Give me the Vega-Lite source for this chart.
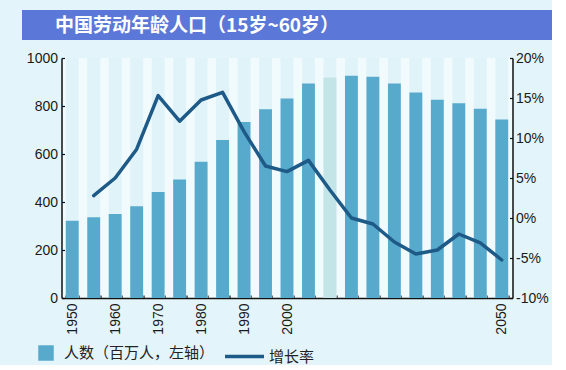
{
  "$schema": "https://vega.github.io/schema/vega-lite/v6.json",
  "background": "#E3F5FA",
  "padding": {"left": 22, "top": 10, "right": 0, "bottom": 0},
  "config": {
    "font": "Liberation Sans",
    "view": {"stroke": null},
    "axis": {"domainColor": "#111", "domainWidth": 1.5, "tickColor": "#111", "tickWidth": 1.2, "labelColor": "#1A1A1A", "labelFontSize": 14, "labelFont": "Liberation Sans", "title": null, "grid": false, "zindex": 1}
  },
  "data": {"values": [
    {"year": 1950, "pop": 322, "rate": null},
    {"year": 1955, "pop": 336, "rate": 2.8},
    {"year": 1960, "pop": 350, "rate": 5.0},
    {"year": 1965, "pop": 382, "rate": 8.6},
    {"year": 1970, "pop": 442, "rate": 15.3},
    {"year": 1975, "pop": 494, "rate": 12.1},
    {"year": 1980, "pop": 568, "rate": 14.75},
    {"year": 1985, "pop": 658, "rate": 15.7},
    {"year": 1990, "pop": 733, "rate": 10.8},
    {"year": 1995, "pop": 786, "rate": 6.5},
    {"year": 2000, "pop": 831, "rate": 5.8},
    {"year": 2005, "pop": 894, "rate": 7.2},
    {"year": 2010, "pop": 919, "rate": 3.5},
    {"year": 2015, "pop": 926, "rate": 0.0},
    {"year": 2020, "pop": 922, "rate": -0.75},
    {"year": 2025, "pop": 894, "rate": -3.0},
    {"year": 2030, "pop": 856, "rate": -4.5},
    {"year": 2035, "pop": 826, "rate": -4.0},
    {"year": 2040, "pop": 811, "rate": -2.0},
    {"year": 2045, "pop": 789, "rate": -3.1},
    {"year": 2050, "pop": 744, "rate": -5.25}
  ]},
  "bounds": "flush",
  "center": true,
  "spacing": 18,
  "vconcat": [
    {
      "width": 530,
      "height": 30,
      "view": {"fill": "#5B78D8", "stroke": null},
      "title": {"text": "中国劳动年龄人口（15岁~60岁）", "anchor": "start", "orient": "top", "offset": -26, "dx": 33, "color": "#FFFFFF", "fontSize": 19, "font": "Noto Sans CJK SC", "fontWeight": "bold", "frame": "group"},
      "mark": {"type": "rect", "opacity": 0},
      "encoding": {}
    },
    {
      "width": 451,
      "height": 240,
      "view": {"fill": "#F1FAFD", "stroke": null},
      "resolve": {"scale": {"y": "independent"}},
      "layer": [
        {
          "mark": {"type": "bar", "color": "#E0F3F9"},
          "encoding": {
            "x": {"field": "year", "type": "ordinal", "scale": {"paddingInner": 0.4, "paddingOuter": 0.2},
              "axis": {"labelAngle": 270, "labelExpr": "(datum.value <= 2000 && datum.value % 10 == 0) || datum.value == 2050 ? datum.label : ''", "tickBand": "extent", "tickSize": -3, "labelPadding": 8}}
          }
        },
        {
          "mark": {"type": "bar"},
          "encoding": {
            "x": {"field": "year", "type": "ordinal"},
            "y": {"field": "pop", "type": "quantitative", "scale": {"domain": [0, 1000], "nice": false},
              "axis": {"orient": "left", "values": [0, 200, 400, 600, 800, 1000], "format": "d", "tickSize": -3, "labelPadding": 7}},
            "fill": {"datum": "人数（百万人，左轴）", "type": "nominal", "scale": {"range": ["#58AACD"]},
              "condition": {"test": "datum.year === 2010", "value": "#C4E5E8"},
              "legend": {"orient": "none", "legendX": 16, "legendY": 335, "symbolType": "square", "symbolSize": 240, "symbolStrokeWidth": 0, "labelFontSize": 15, "labelFont": "Noto Sans CJK SC", "labelColor": "#222", "labelOffset": 10, "title": null}}
          }
        },
        {
          "mark": {"type": "line", "strokeWidth": 3.5, "strokeCap": "round", "strokeJoin": "round"},
          "encoding": {
            "x": {"field": "year", "type": "ordinal"},
            "y": {"field": "rate", "type": "quantitative", "scale": {"domain": [-10, 20], "nice": false},
              "axis": {"orient": "right", "values": [-10, -5, 0, 5, 10, 15, 20], "labelExpr": "datum.value + '%'", "tickSize": -3, "labelPadding": 6}},
            "stroke": {"datum": "增长率", "type": "nominal", "scale": {"range": ["#1E5A87"]},
              "legend": {"orient": "none", "legendX": 201, "legendY": 325, "symbolType": "stroke", "symbolSize": 1521, "symbolStrokeWidth": 3.5, "labelFontSize": 15, "labelFont": "Noto Sans CJK SC", "labelColor": "#222", "labelOffset": 3, "title": null}}
          }
        }
      ]
    }
  ]
}
